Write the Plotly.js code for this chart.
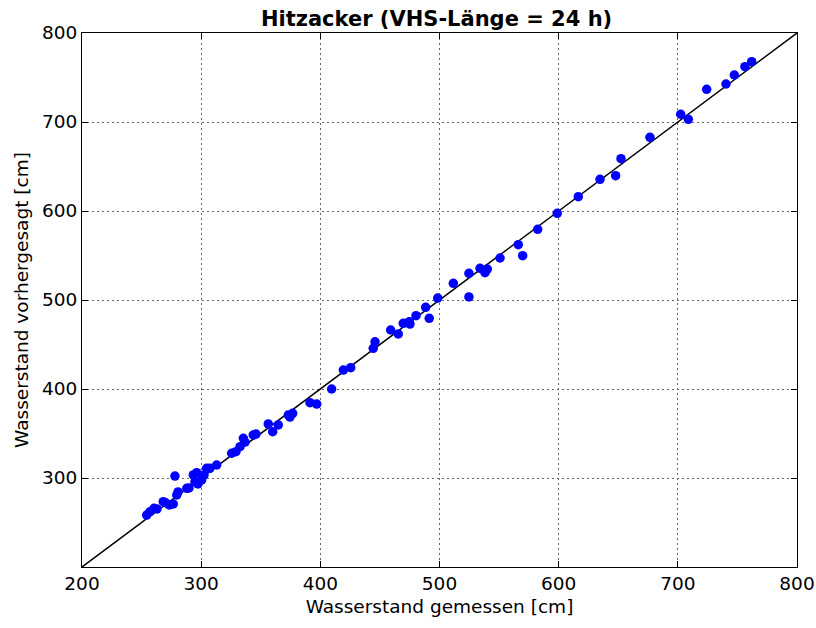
<!DOCTYPE html>
<html>
<head>
<meta charset="utf-8">
<script src="https://cdn.plot.ly/plotly-3.0.1.min.js"></script>
<style>html,body{margin:0;padding:0;background:#fff;}</style>
</head>
<body>
<div id="chart" style="width:816px;height:628px;"></div>
<script>
const measured = [254.3,257.1,260.4,262.9,268.2,270.5,273.3,276.6,278.0,279.5,280.6,287.9,289.8,293.4,296.3,294.8,300.4,297.3,302.4,304.6,307.4,313.0,325.6,329.2,332.6,335.4,336.8,343.7,346.0,356.3,360.0,364.7,373.1,376.8,374.5,391.3,397.0,409.5,419.3,425.5,444.4,445.9,459.0,465.4,469.6,475.2,474.7,480.3,488.4,491.4,498.5,511.6,524.7,524.7,534.0,538.2,540.1,550.8,566.1,569.8,582.4,598.8,616.5,634.7,647.8,652.3,676.6,702.4,708.8,724.2,740.4,747.4,756.3,762.0];
const predicted = [258.4,262.1,266.0,265.2,273.4,271.9,269.7,270.8,302.2,280.9,284.3,288.4,288.8,303.4,306.0,295.8,297.8,293.3,303.4,310.9,310.9,314.6,327.8,329.6,335.2,344.6,340.4,348.3,349.4,360.7,352.0,359.6,370.8,372.7,368.5,384.6,383.1,400.0,421.3,423.9,445.7,453.1,466.3,461.8,473.8,473.0,475.6,482.4,491.8,479.4,502.2,518.8,503.4,530.0,535.6,530.7,534.8,547.2,562.1,549.8,579.4,597.4,616.1,635.6,639.7,658.8,682.8,708.7,703.0,736.7,742.7,752.8,762.1,767.8];
const diagX = [200, 800];
const diagY = [200, 800];
const xTicks = [200,300,400,500,600,700,800];
const yTicks = [300,400,500,600,700,800];

const axisCommon = {
  showline: true, mirror: 'ticks', linecolor: '#000', linewidth: 1,
  ticks: 'inside', ticklen: 6, tickcolor: '#000',
  showgrid: true, gridcolor: '#666', griddash: '1.5px,3.5px', gridwidth: 1,
  zeroline: false,
  tickfont: {family: 'DejaVu Sans', size: 18.5, color: '#000'}
};

Plotly.newPlot('chart', [
  {x: diagX, y: diagY, mode: 'lines', line: {color: '#000', width: 1.5}, hoverinfo: 'skip'},
  {x: measured, y: predicted, mode: 'markers', marker: {color: '#0000ff', size: 9.5, line: {width: 0}}}
], {
  width: 816, height: 628,
  margin: {l: 82, r: 19, t: 33, b: 61},
  paper_bgcolor: '#fff', plot_bgcolor: '#fff',
  showlegend: false,
  title: {text: '<b>Hitzacker (VHS-Länge = 24 h)</b>', font: {family: 'DejaVu Sans', size: 21, color: '#000'}, x: 0.535, xanchor: 'center', y: 0.971, yanchor: 'middle'},
  xaxis: Object.assign({}, axisCommon, {range: [200, 800], tickvals: xTicks, ticktext: xTicks.map(String),
    title: {text: 'Wasserstand gemessen [cm]', font: {family: 'DejaVu Sans', size: 18.5, color: '#000'}, standoff: 6}}),
  yaxis: Object.assign({}, axisCommon, {range: [200, 800], tickvals: yTicks, ticktext: yTicks.map(String),
    title: {text: 'Wasserstand vorhergesagt [cm]', font: {family: 'DejaVu Sans', size: 18.5, color: '#000'}, standoff: 8}})
}, {displayModeBar: false, staticPlot: true});
</script>
</body>
</html>
